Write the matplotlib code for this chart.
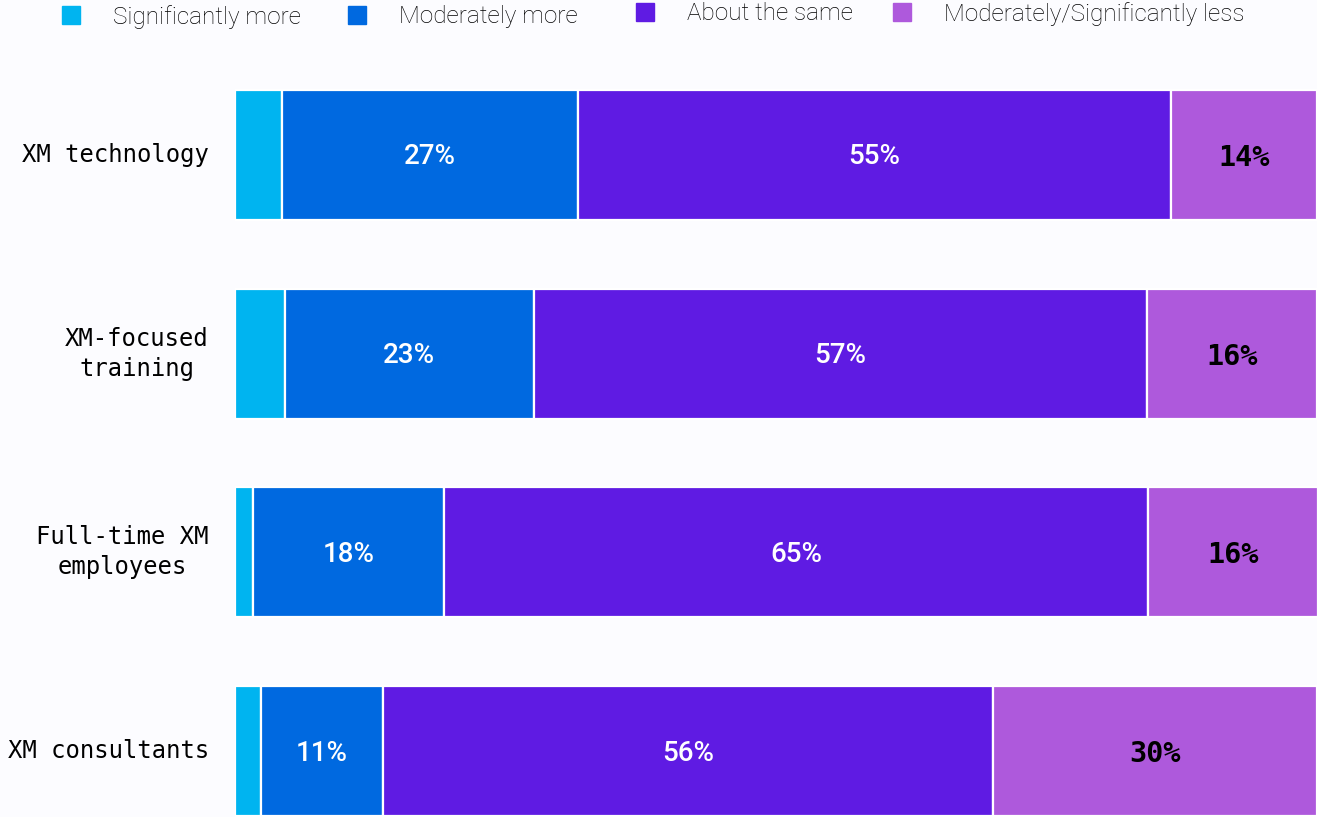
import matplotlib.pyplot as plt
from matplotlib.patches import Rectangle

categories = ['XM technology', 'XM-focused\ntraining', 'Full-time XM\nemployees', 'XM consultants']
series = ['Significantly more', 'Moderately more', 'About the same', 'Moderately/Significantly less']
sig_more = [4.3, 4.6, 1.7, 2.4]
mod_more = [27.4, 23.0, 17.6, 11.3]
same = [54.8, 56.7, 65.1, 56.4]
less = [13.5, 15.7, 15.7, 29.9]
colors = ['#00B4F0', '#0069E0', '#5F1BE3', '#AE59DC']
bg = '#FCFCFF'

fig = plt.figure(figsize=(13.17, 8.17), dpi=100, facecolor=bg)
W, H = 1317, 817
ax = fig.add_axes([235 / W, 0, 1082 / W, 1])
ax.set_facecolor(bg)

ys = list(range(len(categories)))
left = [0] * len(categories)
for i, vals in enumerate([sig_more, mod_more, same, less]):
    bars = ax.barh(ys, vals, left=left, height=0.654, color=colors[i],
                   edgecolor='white', linewidth=1.6)
    for y, v, l in zip(ys, vals, left):
        cx = l + v / 2
        if i in (1, 2):
            ax.text(cx, y + 0.01, f'{round(v)}%', ha='center', va='center', color='white',
                    fontsize=20, family='Roboto', fontweight='medium')
        elif i == 3:
            ax.text(cx, y + 0.015, f'{round(v)}%', ha='center', va='center', color='black',
                    fontsize=20.5, family='DejaVu Sans Mono', fontweight='bold')
    left = [a + b for a, b in zip(left, vals)]

ax.set_xlim(0, 100)
ax.set_ylim(3.332, -0.780)
ax.axis('off')

for y, cat in zip(ys, categories):
    ax.text(-26 / 10.82, y, cat, ha='right', va='center', multialignment='center',
            fontsize=17.2, family='DejaVu Sans Mono', linespacing=1.3)

# legend
leg_x = [62, 348, 636, 893]
leg_y = [15, 15, 12, 12]
for x, y, c, s in zip(leg_x, leg_y, colors, series):
    fig.patches.append(Rectangle((x / W, 1 - (y + 9) / H), 18 / W, 18 / H,
                                 transform=fig.transFigure, color=c))
    fig.text((x + 51) / W, 1 - (y + 2) / H, s, ha='left', va='center', fontsize=17.5,
             family='Roboto', fontweight='light', color='#000000')

fig.savefig('out.png', dpi=100, facecolor=bg)
